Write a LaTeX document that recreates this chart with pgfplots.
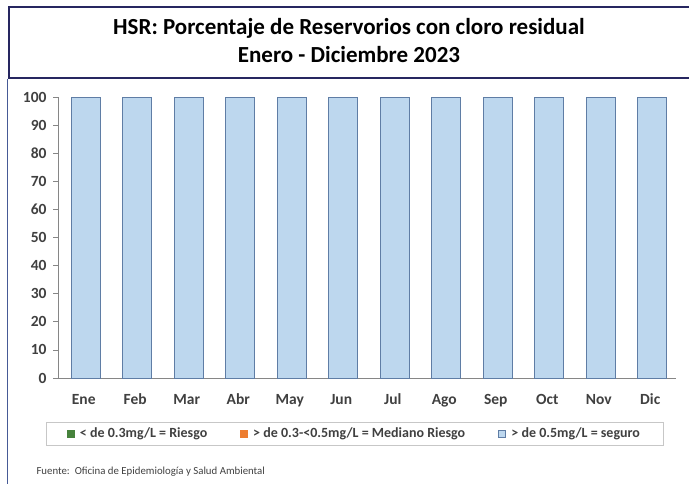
\documentclass[border=0pt]{standalone}
\usepackage{fontspec}
\setmainfont{Carlito}
\usepackage{pgfplots}
\pgfplotsset{compat=1.18}
\definecolor{navy}{RGB}{38,38,96}
\definecolor{edgeblue}{RGB}{70,90,150}
\definecolor{barfill}{RGB}{189,215,238}
\definecolor{baredge}{RGB}{95,125,165}
\definecolor{axgray}{RGB}{134,134,134}
\definecolor{txtgray}{RGB}{64,64,64}
\definecolor{riesgo}{RGB}{70,130,60}
\definecolor{mediano}{RGB}{237,125,49}
\begin{document}
\begin{tikzpicture}[x=1pt,y=1pt]
\path[use as bounding box] (0,0) rectangle (689,483);
\draw[navy, line width=1.6pt] (692,476) -- (9,476) -- (9,405) -- (692,405);
\draw[edgeblue, line width=1pt] (7,404) -- (7,-2);
\node[anchor=base, font=\fontsize{23}{24}\selectfont\bfseries] at (349,448) {HSR: Porcentaje de Reservorios con cloro residual};
\node[anchor=base, font=\fontsize{23}{24}\selectfont\bfseries] at (349,420) {Enero - Diciembre 2023};
\begin{axis}[
  at={(58pt,105pt)}, anchor=south west,
  scale only axis, width=618pt, height=281pt,
  xmin=-0.5, xmax=11.5, ymin=0, ymax=100,
  axis x line=bottom, axis y line=left,
  axis line style={axgray, line width=0.8pt, -},
  ytick={0,10,...,100},
  xtick={0,...,11},
  xticklabels={Ene,Feb,Mar,Abr,May,Jun,Jul,Ago,Sep,Oct,Nov,Dic},
  x tick style={draw=none},
  extra x ticks={-0.5,0.5,...,11.5},
  extra x tick labels={},
  extra x tick style={tick style={draw=axgray, line width=0.8pt}, tick align=outside, major tick length=5pt},
  y tick style={draw=axgray, line width=0.8pt},
  tick align=outside, major tick length=5pt,
  ticklabel style={font=\fontsize{15.5}{15.5}\selectfont\bfseries, text=txtgray},
  yticklabel style={xshift=-3pt},
  xticklabel style={anchor=base, yshift=-21pt, text height=2ex, text depth=0.4ex},
  /pgf/number format/assume math mode=true,
  ybar, bar width=29pt, bar shift=2pt,
  legend columns=3,
  legend style={at={(0.4798,-0.1975)}, anchor=center, draw=black!22,
    font=\fontsize{14}{14}\selectfont\bfseries, text=txtgray,
    inner xsep=21pt, inner ysep=4pt,
    /tikz/every even column/.append style={column sep=31pt}},
  legend image code/.code={\draw[#1] (0pt,-3.5pt) rectangle (7pt,3.5pt); \path (10.5pt,0pt);},
]
\addlegendimage{fill=riesgo, draw=riesgo}
\addlegendentry{< de 0.3mg/L = Riesgo}
\addlegendimage{fill=mediano, draw=mediano}
\addlegendentry{> de 0.3-<0.5mg/L = Mediano Riesgo}
\addplot[fill=barfill, draw=baredge, line width=0.7pt] coordinates {
(0,100) (1,100) (2,100) (3,100) (4,100) (5,100) (6,100) (7,100) (8,100) (9,100) (10,100) (11,100)};
\addlegendentry{> de 0.5mg/L = seguro}
\end{axis}
\node[anchor=base west, font=\fontsize{10.8}{11}\selectfont, text=txtgray] at (33,9) {Fuente:\ \ Oficina de Epidemiología y Salud Ambiental};
\end{tikzpicture}
\end{document}
